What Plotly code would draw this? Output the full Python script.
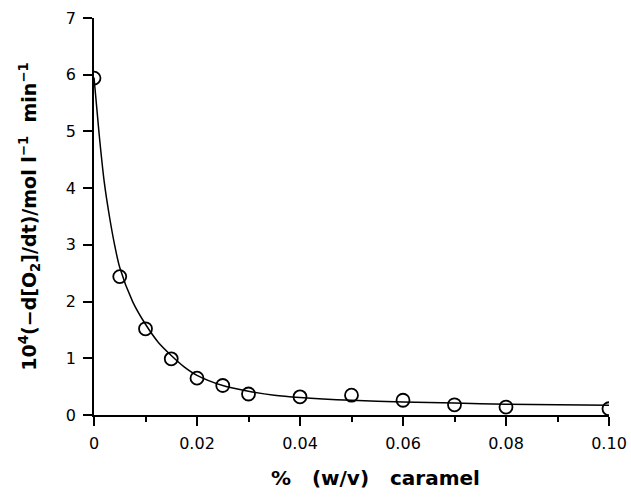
import plotly.graph_objects as go

# measured data points
conc = [0, 0.005, 0.01, 0.015, 0.02, 0.025, 0.03, 0.04, 0.05, 0.06, 0.07, 0.08, 0.10]
rate = [5.94, 2.44, 1.52, 0.99, 0.65, 0.52, 0.37, 0.32, 0.35, 0.26, 0.18, 0.14, 0.11]

# fitted curve
curve_x = [0, 0.001, 0.002, 0.003, 0.004, 0.005, 0.0075, 0.01, 0.0125, 0.015, 0.0175,
           0.02, 0.025, 0.03, 0.035, 0.04, 0.05, 0.06, 0.07, 0.08, 0.09, 0.10]
curve_y = [5.95, 4.95, 4.1, 3.5, 3.0, 2.6, 2.0, 1.6, 1.28, 1.05, 0.85,
           0.70, 0.52, 0.42, 0.35, 0.31, 0.26, 0.23, 0.21, 0.19, 0.18, 0.17]

x_ticks = [0, 0.02, 0.04, 0.06, 0.08, 0.10]
x_labels = ["0", "0.02", "0.04", "0.06", "0.08", "0.10"]
y_ticks = [0, 1, 2, 3, 4, 5, 6, 7]
x_title = "%   (w/v)   caramel"
y_title = "10<sup>4</sup>(−d[O<sub>2</sub>]/dt)/mol l<sup>−1</sup>  min<sup>−1</sup>"

fig = go.Figure()
fig.add_trace(go.Scatter(x=curve_x, y=curve_y, mode="lines",
                         line=dict(color="black", width=1.5, shape="spline", smoothing=0.8),
                         showlegend=False, hoverinfo="skip"))
fig.add_trace(go.Scatter(x=conc, y=rate, mode="markers",
                         marker=dict(symbol="circle-open", size=13, color="black",
                                     line=dict(width=1.8, color="black")),
                         showlegend=False))

font = "DejaVu Sans, Arial, sans-serif"
fig.update_layout(
    width=631, height=498,
    margin=dict(l=94, r=22, t=18, b=83),
    plot_bgcolor="white", paper_bgcolor="white",
    font=dict(family=font, size=16, color="black"),
    xaxis=dict(range=[0, 0.1], showgrid=False, zeroline=False, automargin=False,
               showline=True, linecolor="black", linewidth=2,
               ticks="outside", ticklen=9, tickwidth=1.5, tickcolor="black",
               tickvals=x_ticks, ticktext=x_labels,
               minor=dict(tickvals=[0.01, 0.03, 0.05, 0.07, 0.09], ticks="outside",
                          ticklen=5, tickwidth=1.5, tickcolor="black"),
               ticklabelstandoff=4),
    yaxis=dict(range=[0, 7], showgrid=False, zeroline=False, automargin=False,
               showline=True, linecolor="black", linewidth=1.5,
               ticks="outside", ticklen=9, tickwidth=1.5, tickcolor="black",
               tickvals=y_ticks, ticklabelstandoff=4,
               title=dict(text="<b>" + y_title + "</b>", font=dict(size=19), standoff=24)),
    annotations=[dict(text="<b>" + x_title + "</b>", xref="paper", yref="paper",
                      x=0.546, y=-0.158, xanchor="center", yanchor="middle",
                      showarrow=False, font=dict(size=20))],
)
fig.write_html("out.html")
